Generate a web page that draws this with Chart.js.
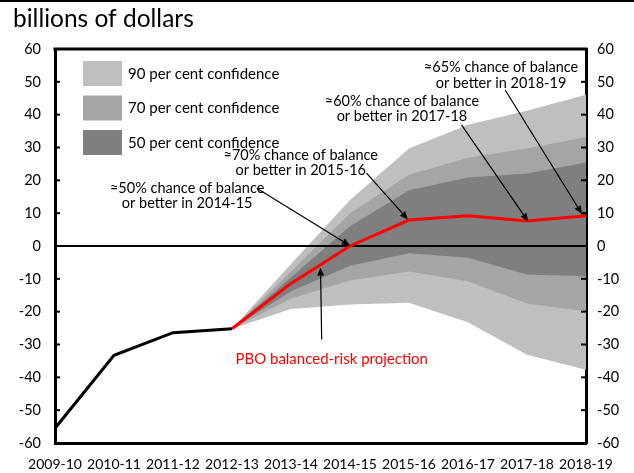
<!DOCTYPE html>
<html>
<head>
<meta charset="utf-8">
<script src="https://cdn.jsdelivr.net/npm/chart.js@4/dist/chart.umd.min.js"></script>
<style>
  html, body { margin: 0; padding: 0; background: #ffffff; }
  #wrap { width: 634px; height: 473px; position: relative; }
</style>
</head>
<body>
<div id="wrap"><canvas id="c" width="634" height="473"></canvas></div>
<script>
// ---- data ----
const categories = ['2009-10','2010-11','2011-12','2012-13','2013-14','2014-15','2015-16','2016-17','2017-18','2018-19'];
const actualBalance = [-55.5, -33.3, -26.4, -25.2, null, null, null, null, null, null];
const projection    = [null, null, null, -25.2, -11.4, 0.0, 7.9, 9.2, 7.6, 9.2];
const upper90 = [null, null, null, -25.2, -5.5, 14.0, 29.7, 36.9, 41.2, 46.1];
const lower90 = [null, null, null, -25.2, -19.2, -17.8, -17.3, -23.2, -33.1, -37.7];
const upper70 = [null, null, null, -25.2, -7.8, 10.0, 21.7, 26.9, 29.7, 33.2];
const lower70 = [null, null, null, -25.2, -16.0, -10.5, -7.8, -10.7, -17.5, -19.9];
const upper50 = [null, null, null, -25.2, -9.5, 6.0, 17.0, 20.9, 22.1, 25.4];
const lower50 = [null, null, null, -25.2, -13.8, -6.0, -2.2, -3.6, -8.7, -9.2];
const zeroLine = [0, 0, 0, 0, 0, 0, 0, 0, 0, 0];
const yTicks = [-60, -50, -40, -30, -20, -10, 0, 10, 20, 30, 40, 50, 60];
const bandLabels = ['90 per cent confidence', '70 per cent confidence', '50 per cent confidence'];
const titleText = 'billions of dollars';
const projectionLabel = 'PBO balanced-risk projection';

const C90 = '#bfbfbf', C70 = '#a5a5a5', C50 = '#7f7f7f';
const FONT = 'Lato';

// annotations: positions expressed in data coordinates (category index, value)
const annotations = [
  { lines: ['\u224850% chance of balance', 'or better in 2014-15'], cx: 2.24, ys: [17.6, 13.05], tail: [3.42, 17.6], tip: [5.0, 0.1], color: '#000000', size: 14.5 },
  { lines: ['\u224870% chance of balance', 'or better in 2015-16'], cx: 4.165, ys: [27.75, 22.97], tail: [5.28, 22.2], tip: [5.98, 8.1], color: '#000000', size: 14.5 },
  { lines: ['\u224860% chance of balance', 'or better in 2017-18'], cx: 5.88, ys: [44.2, 39.4], tail: [6.89, 36.9], tip: [8.02, 7.5], color: '#000000', size: 14.5 },
  { lines: ['\u224865% chance of balance', 'or better in 2018-19'], cx: 7.56, ys: [54.3, 49.6], tail: [7.63, 47.5], tip: [8.93, 9.8], color: '#000000', size: 14.5 },
  { lines: [projectionLabel], cx: 4.69, ys: [-34.6], tail: [4.52, -28.5], tip: [4.50, -6.6], color: '#ff0000', arrowColor: '#000000', size: 15 }
];

function arrow(ctx, x1, y1, x2, y2, color) {
  ctx.save();
  ctx.strokeStyle = color; ctx.fillStyle = color; ctx.lineWidth = 1.2;
  const ang = Math.atan2(y2 - y1, x2 - x1);
  const hl = 8, hw = 3.5;
  const bx = x2 - hl * Math.cos(ang), by = y2 - hl * Math.sin(ang);
  ctx.beginPath(); ctx.moveTo(x1, y1); ctx.lineTo(bx, by); ctx.stroke();
  ctx.beginPath();
  ctx.moveTo(x2, y2);
  ctx.lineTo(bx + hw * Math.sin(ang), by - hw * Math.cos(ang));
  ctx.lineTo(bx - hw * Math.sin(ang), by + hw * Math.cos(ang));
  ctx.closePath(); ctx.fill();
  ctx.restore();
}

const overlay = {
  id: 'overlay',
  afterDraw(chart) {
    const ctx = chart.ctx, a = chart.chartArea;
    const xs = chart.scales.x, ys = chart.scales.y;
    ctx.save();
    // page top rule
    ctx.fillStyle = '#000'; ctx.fillRect(0, 0, chart.width, 2);
    // title
    ctx.font = '24.5px ' + FONT; ctx.textAlign = 'left'; ctx.textBaseline = 'alphabetic';
    ctx.fillText(titleText, 13, 27);
    // top border of plot
    ctx.strokeStyle = '#000'; ctx.lineWidth = 3;
    ctx.beginPath(); ctx.moveTo(a.left - 1.5, a.top); ctx.lineTo(a.right + 1.5, a.top); ctx.stroke();
    // inner tick marks
    ctx.lineWidth = 2;
    yTicks.forEach(v => {
      if (v === 60 || v === -60 || v === 0) return;
      const py = ys.getPixelForValue(v);
      ctx.beginPath(); ctx.moveTo(a.left, py); ctx.lineTo(a.left + 5, py); ctx.stroke();
      ctx.beginPath(); ctx.moveTo(a.right, py); ctx.lineTo(a.right - 5, py); ctx.stroke();
    });
    // legend
    const cols = [C90, C70, C50];
    ctx.font = '15px ' + FONT; ctx.textBaseline = 'middle'; ctx.textAlign = 'left';
    bandLabels.forEach((lab, i) => {
      const bx = a.left + 28, by = a.top + 12 + i * 34.5;
      ctx.fillStyle = cols[i]; ctx.fillRect(bx, by, 39, 25);
      ctx.fillStyle = '#000'; ctx.fillText(lab, bx + 45, by + 13);
    });
    // annotations
    ctx.textAlign = 'center'; ctx.textBaseline = 'middle';
    annotations.forEach(an => {
      ctx.font = an.size + 'px ' + FONT;
      ctx.fillStyle = an.color;
      an.lines.forEach((ln, i) => ctx.fillText(ln, xs.getPixelForValue(an.cx), ys.getPixelForValue(an.ys[i])));
      arrow(ctx, xs.getPixelForValue(an.tail[0]), ys.getPixelForValue(an.tail[1]),
                 xs.getPixelForValue(an.tip[0]), ys.getPixelForValue(an.tip[1]), an.arrowColor || an.color);
    });
    ctx.restore();
  }
};

function band(data, color, fillTarget, order) {
  return { data, borderWidth: 0, borderColor: 'rgba(0,0,0,0)', backgroundColor: color,
           fill: fillTarget === null ? false : { target: fillTarget }, pointRadius: 0, order, tension: 0 };
}

const yCommon = {
  min: -60, max: 60,
  afterBuildTicks: s => { s.ticks = yTicks.map(v => ({ value: v })); },
  grid: { display: false, drawTicks: false },
  border: { display: true, color: '#000', width: 3 },
  ticks: { color: '#000', font: { family: FONT, size: 14.5 } }
};

new Chart(document.getElementById('c'), {
  type: 'line',
  data: {
    labels: categories,
    datasets: [
      band(upper90, C90, 1, 10),
      band(lower90, C90, null, 10),
      band(upper70, C70, 3, 9),
      band(lower70, C70, null, 9),
      band(upper50, C50, 5, 8),
      band(lower50, C50, null, 8),
      { data: zeroLine, borderColor: '#000', borderWidth: 2, pointRadius: 0, fill: false, order: 3 },
      { data: actualBalance, borderColor: '#000', borderWidth: 3, pointRadius: 0, fill: false, order: 2, tension: 0 },
      { label: projectionLabel, data: projection, borderColor: '#ff0000', borderWidth: 3, pointRadius: 0, fill: false, order: 1, tension: 0 }
    ]
  },
  options: {
    responsive: false,
    animation: false,
    layout: { padding: { top: 49, left: 0, right: 0, bottom: 0 } },
    plugins: { legend: { display: false }, tooltip: { enabled: false }, filler: { propagate: false } },
    scales: {
      x: {
        offset: false,
        grid: { display: false, drawTicks: false },
        border: { display: true, color: '#000', width: 3 },
        ticks: { color: '#000', font: { family: FONT, size: 14 }, padding: 13, maxRotation: 0, autoSkip: false },
        afterFit: s => { s.height = 30; }
      },
      y: Object.assign({}, yCommon, {
        position: 'left',
        ticks: Object.assign({}, yCommon.ticks, { padding: 14 }),
        afterFit: s => { s.width = 55; }
      }),
      y2: Object.assign({}, yCommon, {
        position: 'right',
        ticks: Object.assign({}, yCommon.ticks, { padding: 11 }),
        afterFit: s => { s.width = 48; }
      })
    }
  },
  plugins: [overlay]
});
</script>
</body>
</html>
